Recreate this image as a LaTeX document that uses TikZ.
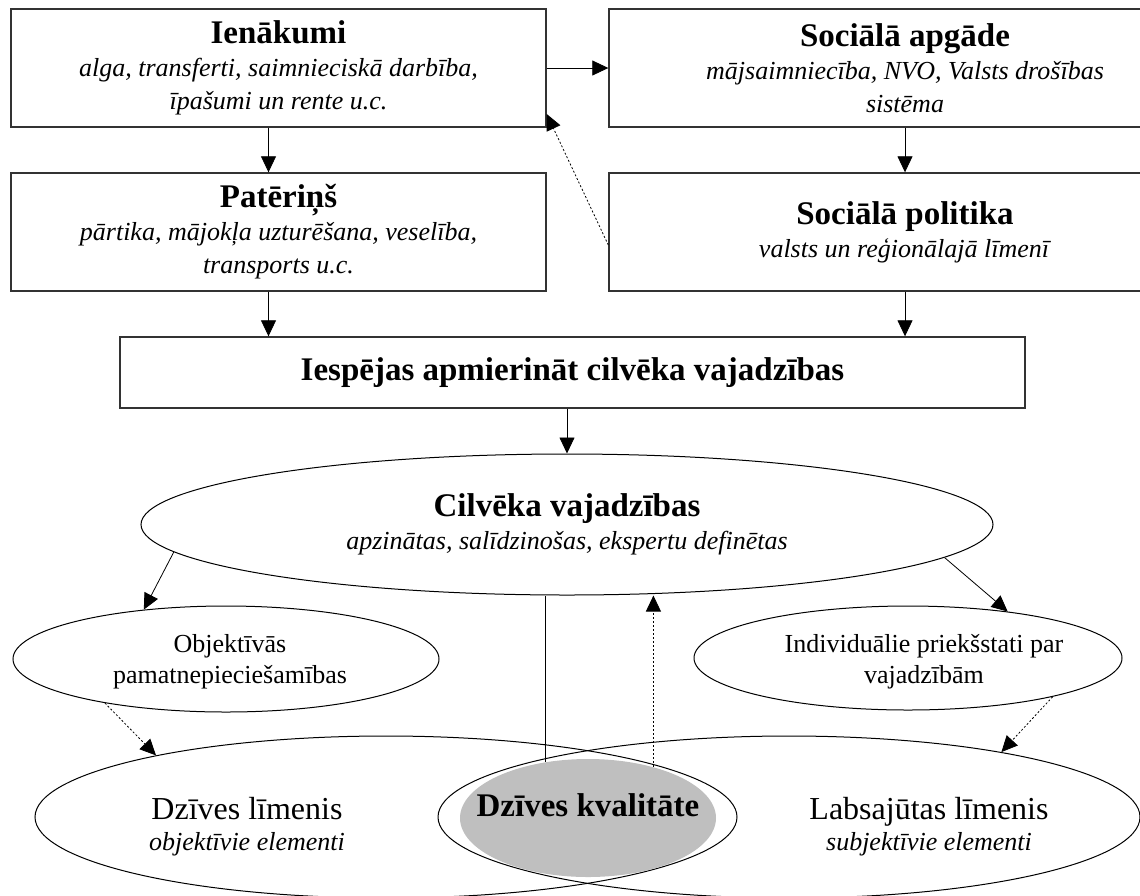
\documentclass[tikz,border=0pt]{standalone}
\usepackage{fontspec}
\setmainfont{Liberation Serif}
\usetikzlibrary{shapes.geometric,arrows.meta}

\definecolor{qualgray}{gray}{0.75}
\newcommand{\boxtitle}[1]{{\bfseries\fontsize{16.5}{18}\selectfont #1}}

\tikzset{
	box/.style={draw=black!80, line width=0.7pt, minimum width=267.5pt, minimum height=59pt, inner sep=0pt, align=center, font=\fontsize{13}{16.5}\selectfont},
	oval/.style={ellipse, draw, line width=0.5pt, inner sep=0pt, align=center, font=\fontsize{13}{16.5}\selectfont},
	txt/.style={align=center, inner sep=0pt, font=\fontsize{13}{15.5}\selectfont},
	arr/.style={-{Triangle[length=8pt,width=7.5pt]}, line width=0.4pt},
	dotarr/.style={arr, dash pattern=on 1pt off 1pt},
}

\begin{document}
\begin{tikzpicture}[x=0.5pt, y=-0.5pt]
	\useasboundingbox (0,0) rectangle (1140,895);
	% boxes
	\node[box] (ienakumi) at (278.5,68) {\boxtitle{Ienākumi}\\ \textit{alga, transferti, saimnieciskā darbība,}\\ \textit{īpašumi un rente u.c.}};
	\node[box, minimum width=296pt] (apgade) at (905,68) {\boxtitle{Sociālā apgāde}\\ \textit{mājsaimniecība, NVO, Valsts drošības}\\ \textit{sistēma}};
	\node[box] (paterins) at (278.5,232) {\boxtitle{Patēriņš}\\ \textit{pārtika, mājokļa uzturēšana, veselība,}\\ \textit{transports u.c.}};
	\node[box, minimum width=296pt] (politika) at (905,232) {\boxtitle{Sociālā politika}\\ \textit{valsts un reģionālajā līmenī}};
	\node[box, minimum width=452.5pt, minimum height=35.5pt] (iespejas) at (572.5,372.5) {\boxtitle{Iespējas apmierināt cilvēka vajadzības}};
	% ellipses
	\node[oval, minimum width=426pt, minimum height=70.5pt] (cilveka) at (567,524.5) {\boxtitle{Cilvēka vajadzības}\\ \textit{apzinātas, salīdzinošas, ekspertu definētas}};
	\node[oval, minimum width=213pt, minimum height=53pt] (objektivas) at (226,659) {};
	\node[txt] (objektivas-t) at (230,662) {Objektīvās\\ pamatnepieciešamības};
	\node[oval, minimum width=214pt, minimum height=52pt] (individualie) at (908,658) {};
	\node[txt] (individualie-t) at (924,662) {Individuālie priekšstati par\\ vajadzībām};
	\node[oval, minimum width=351pt, minimum height=81pt] (limenis) at (386,817) {};
	\node[oval, minimum width=351pt, minimum height=81pt] (labsajuta) at (789,817) {};
	\node[ellipse, fill=qualgray, inner sep=0pt, minimum width=128pt, minimum height=59pt] (kvalitate) at (588,818) {};
	\node[inner sep=0pt] (kvalitate-t) at (588,805) {\boxtitle{Dzīves kvalitāte}};
	\node[txt] (limenis-t) at (247,827) {{\fontsize{16}{18}\selectfont Dzīves līmenis}\\ \textit{objektīvie elementi}};
	\node[txt] (labsajuta-t) at (929,827) {{\fontsize{16}{18}\selectfont Labsajūtas līmenis}\\ \textit{subjektīvie elementi}};
	% connectors
	\draw[arr] (ienakumi) -- (ienakumi -| apgade.west);
	\draw[arr] ([xshift=-5pt]ienakumi.south) -- ([xshift=-5pt]paterins.north);
	\draw[arr] (apgade) -- (politika);
	\draw[arr] ([xshift=-5pt]paterins.south) -- ([xshift=-5pt]paterins.south |- iespejas.north);
	\draw[arr] (politika.south) -- (politika.south |- iespejas.north);
	\draw[dotarr] ([yshift=-6.5pt]politika.west) -- ([yshift=-23pt]ienakumi.east);
	\draw[arr] (cilveka.north |- iespejas.south) -- (cilveka.north);
	\draw[arr] (cilveka.184.5) -- (objektivas.149.4);
	\draw[arr] (cilveka.355.5) -- (individualie.25.4);
	\draw[dotarr] (objektivas.200) -- (limenis.165.4);
	\draw[dotarr] (individualie.345.9) -- (labsajuta.17.3);
	\draw[line width=0.4pt] (kvalitate.127.7) -- (kvalitate.127.7 |- cilveka.south);
	\draw[dotarr] (kvalitate.38.6) -- (kvalitate.38.6 |- cilveka.south);
	%\draw[dotarr] (kvalitate) -- (cilveka);
\end{tikzpicture}
\end{document}
